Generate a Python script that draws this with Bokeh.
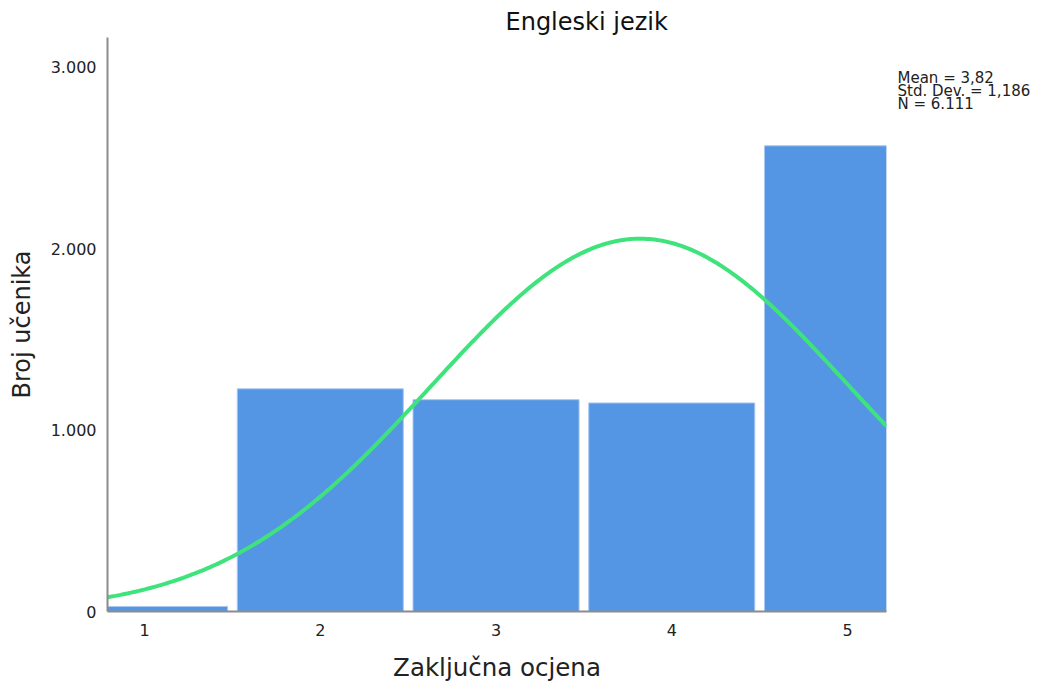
import numpy as np
from bokeh.plotting import figure
from bokeh.layouts import row
from bokeh.models import Range1d, FixedTicker
from bokeh.embed import file_html
from bokeh.resources import INLINE

# Data
grades = [1, 2, 3, 4, 5]
counts = [28, 1228, 1168, 1150, 2568]
y_ticks = [0, 1000, 2000, 3000]
y_tick_labels = ["0", "1.000", "2.000", "3.000"]
stat_mean = 3.82
stat_sd = 1.186
stat_n = 6111
stats_lines = ["Mean = 3,82", "Std. Dev. = 1,186", "N = 6.111"]
title_text = "Engleski jezik"

FONT = "DejaVu Sans"
X0, X1 = 0.789, 5.222
Y1 = 3165
FW, FH = 779, 574
LB, TB, BB, RB = 107, 37, 68, 4
TOTAL_W = 1040

p = figure(frame_width=FW, frame_height=FH, output_backend="svg", toolbar_location=None,
           x_range=Range1d(X0, X1), y_range=Range1d(0, Y1),
           min_border_left=LB, min_border_right=RB, min_border_top=TB, min_border_bottom=BB)
p.outline_line_color = None
p.grid.grid_line_color = None
p.background_fill_color = "white"
p.border_fill_color = "white"

p.title.text = title_text
p.title.align = "left"
p.title.offset = 398
p.title.standoff = 4
p.title.text_font = FONT
p.title.text_font_size = "24px"
p.title.text_font_style = "normal"
p.title.text_color = "#111111"

p.vbar(x=grades, top=counts, width=0.945, fill_color="#5596E4", line_color="#A9C8F2", line_width=1)

# normal curve from the displayed statistics
xs = np.linspace(X0, X1, 300)
ys = stat_n * 1.0 / (stat_sd * np.sqrt(2 * np.pi)) * np.exp(-0.5 * ((xs - stat_mean) / stat_sd) ** 2)
p.line(xs, ys, line_color="#3FE37B", line_width=4)

for ax in (p.xaxis[0], p.yaxis[0]):
    ax.axis_line_color = "#8C8C8C"
    ax.axis_line_width = 2
    ax.major_tick_line_color = None
    ax.minor_tick_line_color = None
    ax.major_label_text_font = FONT
    ax.major_label_text_font_size = "16px"
    ax.major_label_text_color = "#222222"
    ax.axis_label_text_font = FONT
    ax.axis_label_text_font_style = "normal"
    ax.axis_label_text_color = "#222222"

p.xaxis.ticker = FixedTicker(ticks=grades)
p.xaxis.major_label_standoff = 6
p.xaxis.axis_label = "Zaključna ocjena"
p.xaxis.axis_label_text_font_size = "24.5px"
p.xaxis.axis_label_standoff = 14

p.yaxis.ticker = FixedTicker(ticks=y_ticks)
p.yaxis.major_label_overrides = {t: l for t, l in zip(y_ticks, y_tick_labels)}
p.yaxis.major_label_standoff = 5
p.yaxis.axis_label = "Broj učenika"
p.yaxis.axis_label_text_font_size = "24px"
p.yaxis.axis_label_standoff = 12

# side panel holding the statistics box text (same vertical scale as the chart)
SW = TOTAL_W - (LB + FW + RB)
s = figure(frame_width=SW, frame_height=FH, output_backend="svg", toolbar_location=None,
           x_range=Range1d(0, SW), y_range=Range1d(0, Y1),
           min_border_left=0, min_border_right=0, min_border_top=TB, min_border_bottom=BB)
s.axis.visible = False
s.grid.grid_line_color = None
s.outline_line_color = None
s.border_fill_color = "white"
s.background_fill_color = "white"
s.text(x=[7, 7, 7], y=[2942, 2870, 2798], text=stats_lines,
       text_font={"value": FONT}, text_font_size="15px", text_color="#222222",
       text_baseline="alphabetic")

open("out.html", "w").write(file_html(row(p, s), INLINE))
